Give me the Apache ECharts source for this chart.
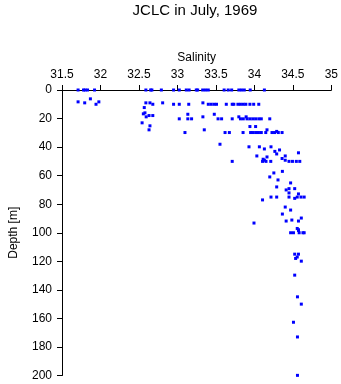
<!DOCTYPE html>
<html>
<head>
<meta charset="utf-8">
<script src="https://cdn.jsdelivr.net/npm/echarts@6/dist/echarts.min.js"></script>
<style>
html,body{margin:0;padding:0;background:#fff;}
#chart{width:341px;height:384px;}
</style>
</head>
<body>
<div id="chart"></div>
<script>
var titleText = "JCLC in July, 1969";
var xName = "Salinity";
var yName = "Depth [m]";
var xTicks = [31.5, 32, 32.5, 33, 33.5, 34, 34.5, 35];
var yTicks = [0, 20, 40, 60, 80, 100, 120, 140, 160, 180, 200];

// salinity values
var salinity = [
  31.709, 31.779, 31.80, 31.832, 31.923, 32.590, 32.652, 32.668, 32.791, 32.950, 33.024, 33.115, 33.152, 33.245, 33.263, 33.328, 33.365, 33.401, 33.607, 33.660, 33.705, 33.798, 33.832, 33.869, 33.946, 34.130,
  31.709, 31.795, 31.869, 31.942, 31.979, 32.590, 32.643, 32.680, 32.808, 32.950, 33.024, 33.147, 33.331, 33.401, 33.438, 33.475, 33.508, 33.635, 33.712, 33.733, 33.786, 33.819, 33.856, 33.889, 33.942, 33.991, 34.057,
  32.569, 32.557, 32.578, 32.594, 32.631, 32.680, 32.541, 32.643, 32.631, 33.098, 33.024, 33.135, 33.135, 33.184,
  33.331, 33.479, 33.528, 33.574, 33.712, 33.798, 33.819, 33.856, 33.905, 33.893, 33.942, 33.979, 34.016, 34.057, 34.090, 34.200,
  33.349, 33.619, 33.675, 33.853, 33.951, 33.979, 34.016, 34.053, 34.090, 34.148, 34.164, 34.229, 34.262, 34.311, 34.360, 34.290, 33.942, 34.016,
  33.553, 33.930, 34.065, 34.130, 34.216, 34.327, 34.266, 34.290, 34.401, 34.573, 34.032, 34.164, 34.114, 34.360, 34.401,
  33.712, 34.106, 34.151, 34.213, 34.130, 34.450, 34.495, 34.545, 34.590,
  34.253, 34.364, 34.200, 34.307, 34.471, 34.290, 34.450, 34.524, 34.413, 34.450, 34.573, 34.557, 34.606, 34.647, 34.524, 34.106, 34.216, 34.290, 34.450,
  34.401, 34.471, 34.364, 34.413, 34.487, 34.573, 34.610, 33.995, 34.557, 34.573, 34.471, 34.508, 34.582, 34.631, 34.647, 34.573,
  34.524, 34.573, 34.557, 34.536, 34.610, 34.524, 34.560, 34.610, 34.508, 34.560, 34.560
];
// depth values (m)
var depth = [
  0, 0, 0, 0, 0, 0, 0, 0, 0, 0, 0, 0, 0, 0, 0, 0, 0, 0, 0, 0, 0, 0, 0, 0, 0, 0,
  8.3, 9, 6.2, 10, 8.3, 9, 9, 10, 9, 10, 10, 10, 9, 10, 10, 10, 10, 10, 10, 10, 10, 10, 10, 10, 10, 10, 10,
  12.3, 16.7, 16, 18.8, 17.9, 17.9, 23, 25.1, 27.9, 29.8, 20.2, 17, 20.2, 20.2,
  18.8, 17, 20.2, 20.2, 20.2, 18.8, 20.2, 20.2, 20.2, 18.8, 20.2, 20.2, 20.2, 20.2, 20.2, 20.2,
  27.9, 29.8, 29.8, 29.8, 29.8, 29.8, 29.8, 29.8, 29.8, 29.8, 27.9, 29.8, 29.8, 29.8, 29.8, 29, 25.6, 25.6,
  38, 39.8, 39.8, 41.3, 39.8, 42, 43, 44.8, 46.2, 44, 46.2, 46.9, 48.5, 48, 49.2,
  50, 50, 50, 50, 49.2, 50, 50, 50, 50,
  58.1, 57, 60.9, 63, 65.1, 67.9, 69.1, 69.1, 70, 72.1, 72.8, 75, 75, 75, 75.9, 77, 75, 75, 75,
  82, 84.1, 86.9, 91.8, 91.1, 91.8, 89.7, 93.2, 97, 97.9, 100, 100, 100, 100, 100, 98.4,
  115, 115, 117, 118, 119.9, 129.7, 144.9, 150, 162.7, 173, 199.9
];

var points = [];
for (var i = 0; i < salinity.length; i++) points.push([salinity[i], depth[i]]);

var font = "'Liberation Sans', Arial, Helvetica, sans-serif";
var chart = echarts.init(document.getElementById('chart'), null, {renderer: 'canvas'});
chart.setOption({
  animation: false,
  backgroundColor: '#ffffff',
  title: {
    text: titleText,
    left: 190, top: -2,
    textAlign: 'center',
    textStyle: {fontFamily: font, fontSize: 15, fontWeight: 'normal', color: '#000'}
  },
  grid: {left: 47, right: 9, top: 90, bottom: 8.5, containLabel: false},
  xAxis: {
    type: 'value',
    position: 'top',
    min: 31.5, max: 35, interval: 0.5,
    name: xName, nameLocation: 'middle', nameGap: 20,
    nameTextStyle: {fontFamily: font, fontSize: 12, color: '#000'},
    axisLine: {show: true, onZero: false, lineStyle: {color: '#000', width: 1}},
    axisTick: {show: true, length: 5, lineStyle: {color: '#000'}},
    axisLabel: {margin: 9, fontFamily: font, fontSize: 12, color: '#000',
      formatter: function (v) { return xTicks.indexOf(v) >= 0 ? String(v) : ''; }},
    splitLine: {show: false}
  },
  yAxis: {
    type: 'value',
    inverse: true,
    min: 0, max: 200, interval: 20,
    name: yName, nameLocation: 'middle', nameGap: 42, nameRotate: 90,
    nameTextStyle: {fontFamily: font, fontSize: 12, color: '#000'},
    axisLine: {show: true, onZero: false, lineStyle: {color: '#000', width: 1}},
    axisTick: {show: true, length: 5, lineStyle: {color: '#000'}},
    axisLabel: {margin: 10, fontFamily: font, fontSize: 12, color: '#000',
      formatter: function (v) { return yTicks.indexOf(v) >= 0 ? String(v) : ''; }},
    splitLine: {show: false}
  },
  series: [{
    type: 'scatter',
    data: points,
    symbol: 'rect',
    symbolSize: 3,
    itemStyle: {color: '#0000ff', opacity: 1},
    clip: false
  }]
});
</script>
</body>
</html>
